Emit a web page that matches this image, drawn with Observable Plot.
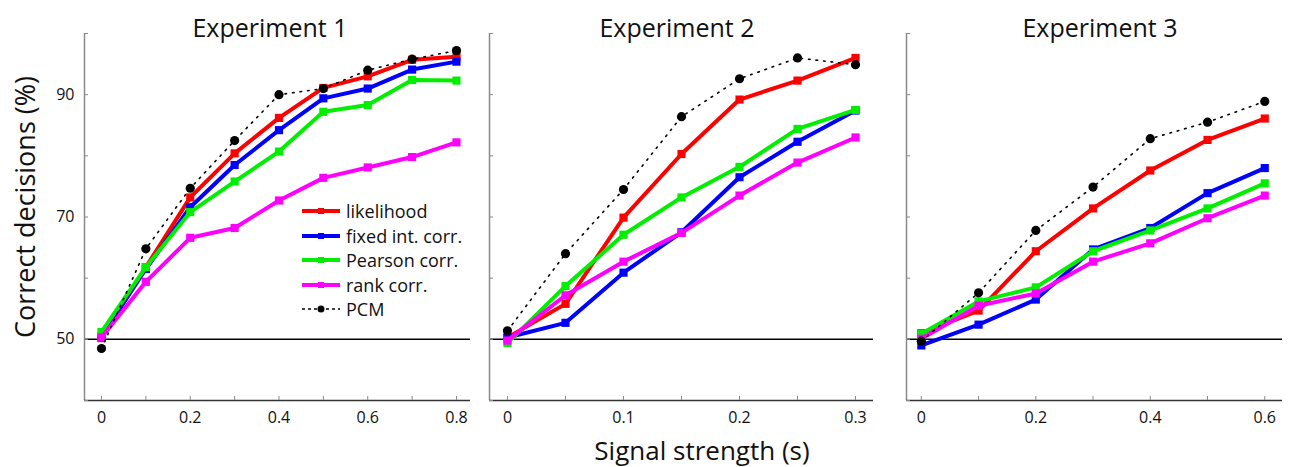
<!DOCTYPE html>
<html>
<head>
<meta charset="utf-8">
<script src="https://cdn.jsdelivr.net/npm/d3@7"></script>
<script src="https://cdn.jsdelivr.net/npm/@observablehq/plot@0.6"></script>
<style>
  body { margin: 0; background: #fff; }
  #wrap { position: relative; width: 1292px; height: 467px; font-family: "Open Sans", sans-serif; color: #111; overflow: hidden; }
  .panel { position: absolute; top: 0; }
  .title { position: absolute; top: 28px; font-size: 25px; line-height: 1.1; transform: translate(-50%, -50%); white-space: nowrap; }
  #ylab { position: absolute; left: 25px; top: 207px; font-size: 27px; line-height: 1.1; transform: translate(-50%, -50%) rotate(-90deg); white-space: nowrap; }
  #xlab { position: absolute; left: 702px; top: 450px; font-size: 26px; line-height: 1.1; transform: translate(-50%, -50%); white-space: nowrap; }
  #legend { position: absolute; left: 301px; top: 199px; font-size: 18px; }
  #legend .row { height: 24.5px; display: flex; align-items: center; white-space: nowrap; }
  #legend svg { margin-right: 5px; }
</style>
</head>
<body>
<div id="wrap"></div>
<script>
// ---------- data ----------
const seriesNames = ["likelihood", "fixed int. corr.", "Pearson corr.", "rank corr.", "PCM"];
const seriesColors = ["#ff0000", "#0000ff", "#00ee00", "#ff00ff", "#000000"];

// Experiment 1
const xs1 = [0, 0.1, 0.2, 0.3, 0.4, 0.5, 0.6, 0.7, 0.8];
const likelihood1 = [50.2, 61.8, 73.2, 80.4, 86.2, 91.1, 93.0, 95.7, 96.2];
const fixed1      = [50.5, 61.5, 71.6, 78.5, 84.2, 89.4, 91.0, 94.1, 95.4];
const pearson1    = [51.2, 61.8, 70.8, 75.8, 80.7, 87.2, 88.3, 92.4, 92.3];
const rank1       = [50.3, 59.4, 66.6, 68.2, 72.7, 76.4, 78.1, 79.8, 82.2];
const pcm1        = [48.5, 64.8, 74.7, 82.5, 90.0, 91.0, 94.0, 95.8, 97.2];

// Experiment 2
const xs2 = [0, 0.05, 0.1, 0.15, 0.2, 0.25, 0.3];
const likelihood2 = [50.3, 55.8, 69.9, 80.3, 89.2, 92.3, 96.0];
const fixed2      = [50.3, 52.7, 60.9, 67.5, 76.5, 82.3, 87.4];
const pearson2    = [49.4, 58.7, 67.1, 73.2, 78.2, 84.4, 87.5];
const rank2       = [49.8, 57.2, 62.7, 67.4, 73.5, 78.9, 83.0];
const pcm2        = [51.4, 64.0, 74.5, 86.4, 92.6, 96.0, 94.9];

// Experiment 3
const xs3 = [0, 0.1, 0.2, 0.3, 0.4, 0.5, 0.6];
const likelihood3 = [51.0, 54.7, 64.4, 71.4, 77.6, 82.6, 86.1];
const fixed3      = [49.0, 52.4, 56.5, 64.7, 68.2, 73.9, 78.0];
const pearson3    = [50.9, 56.2, 58.5, 64.4, 67.8, 71.4, 75.5];
const rank3       = [50.1, 55.5, 57.5, 62.7, 65.7, 69.8, 73.5];
const pcm3        = [49.7, 57.6, 67.8, 74.9, 82.8, 85.5, 88.9];

// axes
const yDomain = [40, 100];
const yTickMarks = [40, 50, 60, 70, 80, 90, 100];
const yTickLabels = [50, 70, 90];
const chanceLevel = 50;

const xDomain1 = [-0.0383, 0.8316];
const xTickMarks1 = [0, 0.1, 0.2, 0.3, 0.4, 0.5, 0.6, 0.7, 0.8];
const xTickLabels1 = [0, 0.2, 0.4, 0.6, 0.8];

const xDomain2 = [-0.0155, 0.3155];
const xTickMarks2 = [0, 0.05, 0.1, 0.15, 0.2, 0.25, 0.3];
const xTickLabels2 = [0, 0.1, 0.2, 0.3];

const xDomain3 = [-0.0259, 0.631];
const xTickMarks3 = [0, 0.1, 0.2, 0.3, 0.4, 0.5, 0.6];
const xTickLabels3 = [0, 0.2, 0.4, 0.6];

const titles = ["Experiment 1", "Experiment 2", "Experiment 3"];

// ---------- build ----------
function rowsFor(xs, arrays) {
  const rows = [];
  arrays.forEach((vals, si) => {
    vals.forEach((v, i) => rows.push({x: xs[i], y: v, series: seriesNames[si]}));
  });
  return rows;
}

const panels = [
  {xs: xs1, arrs: [likelihood1, fixed1, pearson1, rank1, pcm1], xd: xDomain1, tm: xTickMarks1, tl: xTickLabels1, left: 40, ml: 44, width: 440, showY: true, titleX: 270},
  {xs: xs2, arrs: [likelihood2, fixed2, pearson2, rank2, pcm2], xd: xDomain2, tm: xTickMarks2, tl: xTickLabels2, left: 479, ml: 10, width: 404, showY: false, titleX: 677},
  {xs: xs3, arrs: [likelihood3, fixed3, pearson3, rank3, pcm3], xd: xDomain3, tm: xTickMarks3, tl: xTickLabels3, left: 896, ml: 10, width: 396, showY: false, titleX: 1100}
];

const wrap = document.getElementById("wrap");
const H = 440, MT = 33, MB = 40, MR = 10;

panels.forEach((p, pi) => {
  const rows = rowsFor(p.xs, p.arrs);
  const frameW = p.width - p.ml - MR;
  const frameH = H - MT - MB;
  const dxTick = (p.xd[1] - p.xd[0]) * 4 / frameW;
  const dyTick = (yDomain[1] - yDomain[0]) * 4 / frameH;
  const marks = [
    Plot.ruleY([chanceLevel], {x1: p.xd[0], x2: p.xd[1], stroke: "#000", strokeWidth: 1.5}),
    Plot.ruleX([p.xd[0]], {y1: yDomain[0], y2: yDomain[1], stroke: "#8a8a8a", strokeWidth: 1.5}),
    Plot.ruleY([yDomain[0]], {x1: p.xd[0], x2: p.xd[1], stroke: "#333", strokeWidth: 1.5}),
    Plot.ruleY(yTickMarks, {x1: p.xd[0], x2: p.xd[0] + dxTick, stroke: "#8a8a8a"}),
    Plot.ruleX(p.tm, {y1: yDomain[0], y2: yDomain[0] + dyTick, stroke: "#8a8a8a"}),
    Plot.axisX(p.tl, {tickSize: 0, tickPadding: 11, fontSize: 16, tickFormat: d => String(d), label: null})
  ];
  if (p.showY) {
    marks.push(Plot.axisY(yTickLabels, {tickSize: 0, tickPadding: 10, fontSize: 16, tickFormat: d => String(d), label: null}));
  }
  seriesNames.forEach((name, si) => {
    const data = rows.filter(r => r.series === name);
    if (si < 4) {
      marks.push(Plot.line(data, {x: "x", y: "y", stroke: seriesColors[si], strokeWidth: 4, strokeLinejoin: "round"}));
      marks.push(Plot.dot(data, {x: "x", y: "y", symbol: "square", r: 4.6, fill: seriesColors[si], stroke: null}));
    } else {
      marks.push(Plot.line(data, {x: "x", y: "y", stroke: "#000", strokeWidth: 1.6, strokeDasharray: "1.6,6"}));
      marks.push(Plot.dot(data, {x: "x", y: "y", r: 4.6, fill: "#000", stroke: null}));
    }
  });
  const chart = Plot.plot({
    width: p.width, height: H,
    marginLeft: p.ml, marginRight: MR, marginTop: MT, marginBottom: MB,
    x: {domain: p.xd, axis: null, label: null},
    y: {domain: yDomain, axis: null, label: null},
    style: {fontFamily: "'Open Sans', sans-serif", fontSize: "16px", color: "#111", background: "transparent", overflow: "visible"},
    marks
  });
  const div = document.createElement("div");
  div.className = "panel";
  div.style.left = p.left + "px";
  div.appendChild(chart);
  wrap.appendChild(div);

  const t = document.createElement("div");
  t.className = "title";
  t.textContent = titles[pi];
  t.style.left = p.titleX + "px";
  wrap.appendChild(t);
});

const yl = document.createElement("div");
yl.id = "ylab"; yl.textContent = "Correct decisions (%)";
wrap.appendChild(yl);
const xl = document.createElement("div");
xl.id = "xlab"; xl.textContent = "Signal strength (s)";
wrap.appendChild(xl);

// legend
const lg = document.createElement("div");
lg.id = "legend";
seriesNames.forEach((name, si) => {
  const row = document.createElement("div");
  row.className = "row";
  const ns = "http://www.w3.org/2000/svg";
  const s = document.createElementNS(ns, "svg");
  s.setAttribute("width", 40); s.setAttribute("height", 12);
  const ln = document.createElementNS(ns, "line");
  ln.setAttribute("x1", 1); ln.setAttribute("x2", 39); ln.setAttribute("y1", 6); ln.setAttribute("y2", 6);
  ln.setAttribute("stroke", seriesColors[si]);
  if (si < 4) {
    ln.setAttribute("stroke-width", 4);
    s.appendChild(ln);
    const r = document.createElementNS(ns, "rect");
    r.setAttribute("x", 17); r.setAttribute("y", 3); r.setAttribute("width", 6); r.setAttribute("height", 6);
    r.setAttribute("fill", seriesColors[si]);
    s.appendChild(r);
  } else {
    ln.setAttribute("stroke-width", 1.5);
    ln.setAttribute("stroke-dasharray", "3,3");
    s.appendChild(ln);
    const c = document.createElementNS(ns, "circle");
    c.setAttribute("cx", 20); c.setAttribute("cy", 6); c.setAttribute("r", 3.5);
    c.setAttribute("fill", "#000");
    s.appendChild(c);
  }
  row.appendChild(s);
  const sp = document.createElement("span");
  sp.textContent = name;
  row.appendChild(sp);
  lg.appendChild(row);
});
wrap.appendChild(lg);
</script>
</body>
</html>
